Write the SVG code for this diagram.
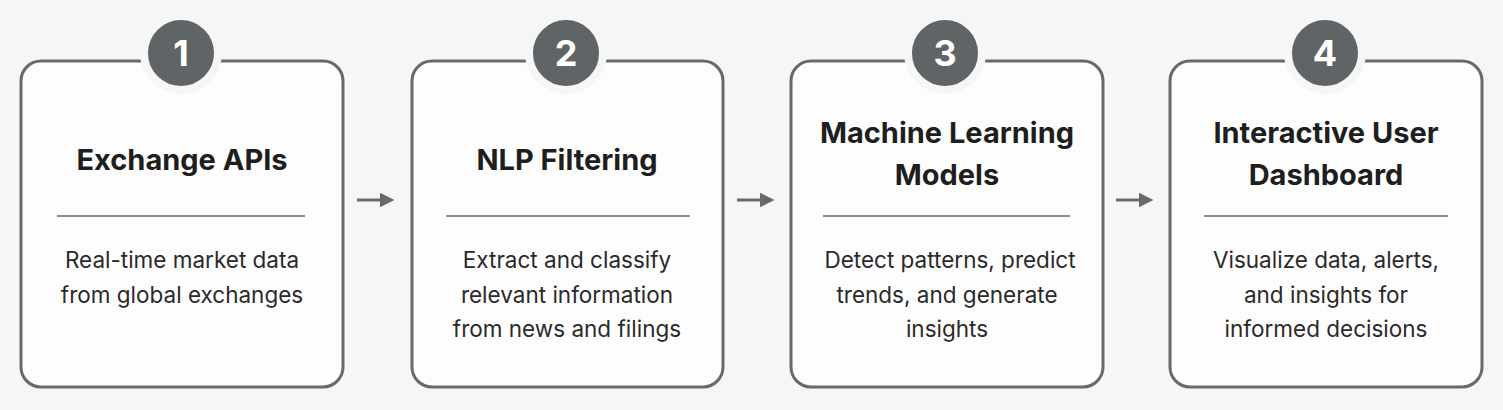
<svg xmlns="http://www.w3.org/2000/svg" width="1503" height="410" viewBox="0 0 1503 410">
<style>
.box{fill:#fdfdfd;stroke:#666a6c;stroke-width:3}
.badge{fill:#5f6466;stroke:#f6f6f6;stroke-width:8}
.num{font-family:"Inter","Liberation Sans",sans-serif;font-weight:700;font-size:36px;fill:#fff;text-anchor:middle}
.title{font-family:"Inter","Liberation Sans",sans-serif;font-weight:700;font-size:29px;fill:#1e1e1e;text-anchor:middle}
.desc{font-family:"Inter","Liberation Sans",sans-serif;font-size:22.5px;fill:#2a2a2a;text-anchor:middle}
.div{stroke:#666a6c;stroke-width:1.5}
.conn{stroke:#666a6c;stroke-width:3;fill:none}
</style>
<defs><marker id="ah" markerWidth="5" markerHeight="5" refX="3.5" refY="2.5" orient="auto"><path d="M0,0L5,2.5L0,5z" fill="#666a6c"/></marker></defs>
<rect width="1503" height="410" fill="#f6f6f6"/>
<g id="connectors">
<line class="conn" x1="357" y1="200" x2="390" y2="200" marker-end="url(#ah)"/>
<line class="conn" x1="737" y1="200" x2="770" y2="200" marker-end="url(#ah)"/>
<line class="conn" x1="1116" y1="200" x2="1149" y2="200" marker-end="url(#ah)"/>
</g>
<g id="node1">
<rect class="box" x="21" y="61" width="322" height="326" rx="20"/>
<circle class="badge" cx="181" cy="53" r="37"/>
<text class="num" x="181" y="66">1</text>
<text class="title" x="182" y="170">Exchange APIs</text>
<line class="div" x1="57" y1="216" x2="305" y2="216"/>
<text class="desc" x="182" y="268">Real-time market data</text>
<text class="desc" x="182" y="303">from global exchanges</text>
</g>
<g id="node2">
<rect class="box" x="412" y="61" width="311" height="326" rx="20"/>
<circle class="badge" cx="566" cy="53" r="37"/>
<text class="num" x="566" y="66">2</text>
<text class="title" x="567" y="170">NLP Filtering</text>
<line class="div" x1="446" y1="216" x2="690" y2="216"/>
<text class="desc" x="567" y="268">Extract and classify</text>
<text class="desc" x="567" y="303">relevant information</text>
<text class="desc" x="567" y="337">from news and filings</text>
</g>
<g id="node3">
<rect class="box" x="791" y="61" width="312" height="326" rx="20"/>
<circle class="badge" cx="945" cy="53" r="37"/>
<text class="num" x="945" y="66">3</text>
<text class="title" x="947" y="143">Machine Learning</text>
<text class="title" x="947" y="185">Models</text>
<line class="div" x1="823" y1="216" x2="1070" y2="216"/>
<text class="desc" x="950" y="268">Detect patterns, predict</text>
<text class="desc" x="947" y="303">trends, and generate</text>
<text class="desc" x="947" y="337">insights</text>
</g>
<g id="node4">
<rect class="box" x="1170" y="61" width="312" height="326" rx="20"/>
<circle class="badge" cx="1325" cy="53" r="37"/>
<text class="num" x="1325" y="66">4</text>
<text class="title" x="1326" y="143">Interactive User</text>
<text class="title" x="1326" y="185">Dashboard</text>
<line class="div" x1="1204" y1="216" x2="1448" y2="216"/>
<text class="desc" x="1326" y="268">Visualize data, alerts,</text>
<text class="desc" x="1326" y="303">and insights for</text>
<text class="desc" x="1326" y="337">informed decisions</text>
</g>
</svg>
